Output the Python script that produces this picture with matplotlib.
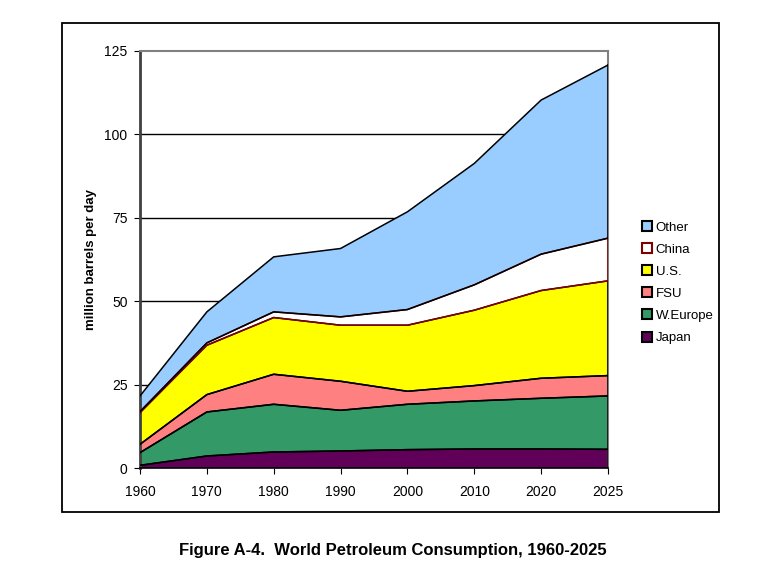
import matplotlib
matplotlib.use("Agg")
import matplotlib.pyplot as plt
from matplotlib.lines import Line2D
from matplotlib.patches import Rectangle
import numpy as np

plt.rcParams["font.family"] = ["Liberation Sans", "DejaVu Sans"]

years = ["1960", "1970", "1980", "1990", "2000", "2010", "2020", "2025"]
japan = [0.8, 3.6, 4.8, 5.1, 5.5, 5.7, 5.7, 5.6]
w_europe = [3.8, 13.2, 14.3, 12.2, 13.6, 14.4, 15.2, 16.0]
fsu = [2.5, 5.2, 9.0, 8.7, 3.9, 4.6, 6.0, 6.1]
us = [9.5, 14.8, 17.0, 16.8, 19.8, 22.6, 26.3, 28.4]
china = [0.3, 0.7, 1.7, 2.5, 4.7, 7.6, 10.9, 12.8]
other = [4.7, 9.3, 16.5, 20.5, 29.3, 36.4, 46.2, 51.9]

names = ["Japan", "W.Europe", "FSU", "U.S.", "China", "Other"]
series = [japan, w_europe, fsu, us, china, other]
fills = ["#600058", "#339966", "#ff8080", "#ffff00", "#ffffff", "#99ccff"]
edges = ["#000000", "#000000", "#000000", "#000000", "#800000", "#000000"]

fig = plt.figure(figsize=(7.7, 5.67), dpi=100)
# outer frame
fig.patches.append(Rectangle((62 / 770, 1 - 512 / 567), (719 - 62) / 770, (512 - 23) / 567,
                             transform=fig.transFigure, fill=False, ec="black", lw=1.3))

ax = fig.add_axes([140 / 770, 1 - 468 / 567, (608 - 140) / 770, (468 - 51) / 567])
x = np.arange(len(years))
base = np.zeros(len(years))
for k, (vals, fc, ec) in enumerate(zip(series, fills, edges)):
    top = base + np.array(vals)
    ax.fill_between(x, base, top, facecolor=fc, edgecolor="none", zorder=2)
    # each area's border: bottom edge drawn over the previous area's top
    if k > 0:
        ax.plot(x, base, color=ec, lw=1.1, zorder=3 + k)
    ax.plot(x, top, color=ec, lw=1.1, zorder=3 + k)
    ax.plot([x[-1], x[-1]], [base[-1], top[-1]], color=ec, lw=1.1, zorder=3 + k)
    base = top

for g in [25, 50, 75, 100]:
    ax.axhline(g, color="black", lw=1.0, zorder=1)

ax.set_xlim(0, len(years) - 1)
ax.set_ylim(0, 125)
ax.set_xticks(x)
ax.set_xticklabels(years, fontsize=10)
ax.set_yticks([0, 25, 50, 75, 100, 125])
ax.tick_params(axis="y", direction="out", length=4, labelsize=10, pad=5)
ax.tick_params(axis="x", direction="out", length=4, labelsize=10, pad=8)
ax.spines["top"].set_color("#808080")
ax.spines["right"].set_color("#808080")
ax.spines["top"].set_linewidth(1.5)
ax.spines["right"].set_linewidth(1.5)
ax.spines["left"].set_color("#404040")
ax.spines["left"].set_linewidth(2.0)
ax.spines["bottom"].set_color("black")
ax.spines["bottom"].set_linewidth(1.2)
ax.set_ylabel("million barrels per day", fontsize=9.5, fontweight="bold", labelpad=5)

handles = []
for n, fc, ec in zip(names[::-1], fills[::-1], edges[::-1]):
    handles.append(Line2D([], [], marker="s", ls="", ms=7, markerfacecolor=fc,
                          markeredgecolor=ec, markeredgewidth=1.5, label=n))
fig.legend(handles=handles, loc="upper left", bbox_to_anchor=(636 / 770, 1 - 216 / 567),
           frameon=False, fontsize=9.5, handlelength=0.8, handletextpad=0.3,
           labelspacing=0.75, borderaxespad=0)

fig.text(393 / 770, 1 - 550 / 567, "Figure A-4.  World Petroleum Consumption, 1960-2025",
         ha="center", va="center", fontsize=12, fontweight="bold")

fig.savefig("out.png", dpi=100)
